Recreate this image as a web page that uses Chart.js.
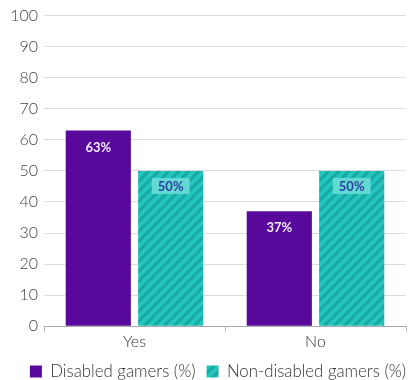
<!DOCTYPE html>
<html>
<head>
<meta charset="utf-8">
<script src="https://cdn.jsdelivr.net/npm/chart.js@4"></script>
<style>
  html, body { margin: 0; padding: 0; background: #fff; }
</style>
</head>
<body>
<canvas id="chart" width="411" height="380"></canvas>
<script>
// data
const categories = ['Yes', 'No'];
const disabledValues = [63, 37];
const nonDisabledValues = [50, 50];
const seriesNames = ['Disabled gamers (%)', 'Non-disabled gamers (%)'];

// striped teal fill
function stripes() {
  const c = document.createElement('canvas');
  c.width = 10; c.height = 10;
  const x = c.getContext('2d');
  x.fillStyle = '#22c6bf';
  x.fillRect(0, 0, 10, 10);
  x.strokeStyle = '#19a7a1';
  x.lineWidth = 3;
  x.beginPath();
  x.moveTo(-5, 5); x.lineTo(5, -5);
  x.moveTo(0, 10); x.lineTo(10, 0);
  x.moveTo(5, 15); x.lineTo(15, 5);
  x.stroke();
  return x.createPattern(c, 'repeat');
}
const tealPattern = stripes();

const barLabels = {
  id: 'barLabels',
  afterDatasetsDraw(chart) {
    const ctx = chart.ctx;
    ctx.save();
    ctx.font = 'bold 13px Lato';
    ctx.textAlign = 'center';
    ctx.textBaseline = 'middle';
    chart.data.datasets.forEach((ds, i) => {
      chart.getDatasetMeta(i).data.forEach((bar, j) => {
        const txt = ds.data[j] + '%';
        if (i === 1) {
          const y = bar.y + 15;
          const w = ctx.measureText(txt).width + 12;
          ctx.fillStyle = '#63d9d3';
          ctx.fillRect(bar.x - w / 2, y - 8, w, 16);
          ctx.fillStyle = '#2b3f9e';
          ctx.fillText(txt, bar.x, y + 1);
        } else {
          ctx.fillStyle = '#f4ecff';
          ctx.fillText(txt, bar.x, bar.y + 17);
        }
      });
    });
    ctx.restore();
  }
};

// legend sits a bit right of centre in the original
const legendShift = {
  id: 'legendShift',
  afterLayout(chart) {
    chart.legend.left += 15;
    chart.legend.right += 15;
  }
};

new Chart(document.getElementById('chart'), {
  type: 'bar',
  data: {
    labels: categories,
    datasets: [
      { label: seriesNames[0], data: disabledValues, backgroundColor: '#58099c' },
      { label: seriesNames[1], data: nonDisabledValues, backgroundColor: tealPattern }
    ]
  },
  options: {
    responsive: false,
    animation: false,
    layout: { padding: { top: 12, right: 5, left: 0, bottom: -10 } },
    plugins: {
      tooltip: { enabled: false },
      legend: {
        position: 'bottom',
        labels: {
          boxWidth: 12,
          boxHeight: 12,
          padding: 11,
          color: '#333',
          font: { family: 'Lato', size: 16.8, weight: 300 }
        }
      }
    },
    scales: {
      x: {
        grid: { drawOnChartArea: false, drawTicks: true, tickLength: 6, color: '#bbb' },
        border: { color: '#aaa' },
        ticks: { color: '#333', font: { family: 'Lato', size: 16, weight: 300 }, padding: 0 },
        afterFit(s) { s.height = 26; }
      },
      y: {
        min: 0,
        max: 100,
        ticks: { stepSize: 10, color: '#444', font: { family: 'Lato', size: 16, weight: 300 }, padding: 6 },
        grid: { color: '#dcdcdc', drawTicks: false },
        border: { display: false },
        afterFit(s) { s.width = 44; }
      }
    }
  },
  plugins: [barLabels, legendShift]
});
</script>
</body>
</html>
